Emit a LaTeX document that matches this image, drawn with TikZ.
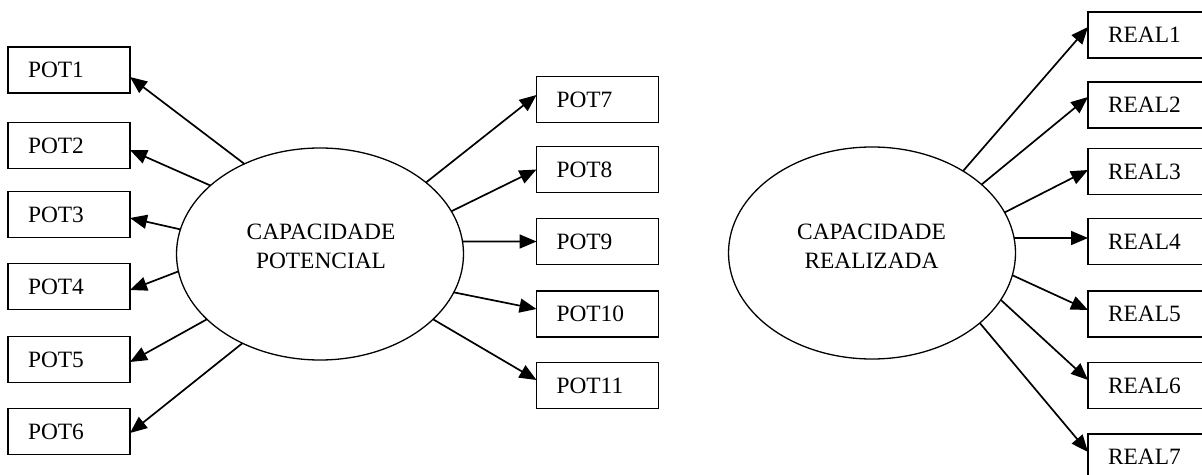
\documentclass[tikz,border=0pt]{standalone}
\usepackage{fontspec}
\setmainfont{Liberation Serif}
\usetikzlibrary{arrows.meta,shapes.geometric}

\begin{document}
\begin{tikzpicture}[x=0.5pt,y=-0.5pt,
  every node/.style={font=\fontsize{11.7}{14.5}\selectfont},
  item/.style={draw, line width=0.85pt, minimum height=23pt, text width=41pt,
    inner xsep=10pt, inner ysep=0pt, outer sep=0pt, align=left},
  factor/.style={draw, ellipse, line width=0.65pt, minimum width=143.5pt,
    minimum height=106pt, inner sep=0pt, outer sep=0pt},
  caption/.style={align=center, inner sep=0pt},
  load/.style={-{Triangle[length=8.5pt,width=7pt]}, line width=0.85pt}]

\useasboundingbox (0,0) rectangle (1202,475);
\clip (0,0) rectangle (1202,475);

% latent constructs
\node[factor] (pot) at (320,254) {};
\node[caption] (potlbl) at (321,246) {CAPACIDADE\\POTENCIAL};
\node[factor] (real) at (872,253) {};
\node[caption] (reallbl) at (871.5,246) {CAPACIDADE\\REALIZADA};

% indicators of the potential capacity
\node[item] (p1) at (69,70) {POT1};
\node[item] (p2) at (69,145.5) {POT2};
\node[item] (p3) at (69,214.5) {POT3};
\node[item] (p4) at (69,286.5) {POT4};
\node[item] (p5) at (69,359.5) {POT5};
\node[item] (p6) at (69,431.5) {POT6};
\node[item] (p7) at (597.5,99.5) {POT7};
\node[item] (p8) at (597.5,169.5) {POT8};
\node[item] (p9) at (597.5,241.5) {POT9};
\node[item] (p10) at (597.5,314) {POT10};
\node[item] (p11) at (597.5,385.5) {POT11};

% indicators of the realized capacity
\node[item] (r1) at (1149,35) {REAL1};
\node[item] (r2) at (1149,105) {REAL2};
\node[item] (r3) at (1149,171.5) {REAL3};
\node[item] (r4) at (1149,241.5) {REAL4};
\node[item] (r5) at (1149,314) {REAL5};
\node[item] (r6) at (1149,385.5) {REAL6};
\node[item] (r7) at (1149,457) {REAL7};

% loadings
\draw[load] (pot.130) -- ([yshift=-3.5pt]p1.east);
\draw[load] (pot.148) -- ([yshift=-2.25pt]p2.east);
\draw[load] (pot.170) -- ([yshift=-1.75pt]p3.east);
\draw[load] (pot.187) -- ([yshift=-1.75pt]p4.east);
\draw[load] (pot.210) -- ([yshift=-1.25pt]p5.east);
\draw[load] (pot.229) -- ([yshift=-0.75pt]p6.east);
\draw[load] (pot.34) -- ([yshift=2.25pt]p7.west);
\draw[load] (pot.18) -- (p8.west);
\draw[load] (pot.5) -- (p9.west);
\draw[load] (pot.344) -- ([yshift=2.5pt]p10.west);
\draw[load] (pot.330) -- ([yshift=2.75pt]p11.west);

\draw[load] (real.42) -- ([yshift=4pt]r1.west);
\draw[load] (real.32) -- ([yshift=4pt]r2.west);
\draw[load] (real.17) -- ([yshift=0.75pt]r3.west);
\draw[load] (real.6) -- ([yshift=1.75pt]r4.west);
\draw[load] (real.351) -- ([yshift=2pt]r5.west);
\draw[load] (real.340) -- ([yshift=2.75pt]r6.west);
\draw[load] (real.327) -- ([yshift=2.5pt]r7.west);
\end{tikzpicture}
\end{document}
